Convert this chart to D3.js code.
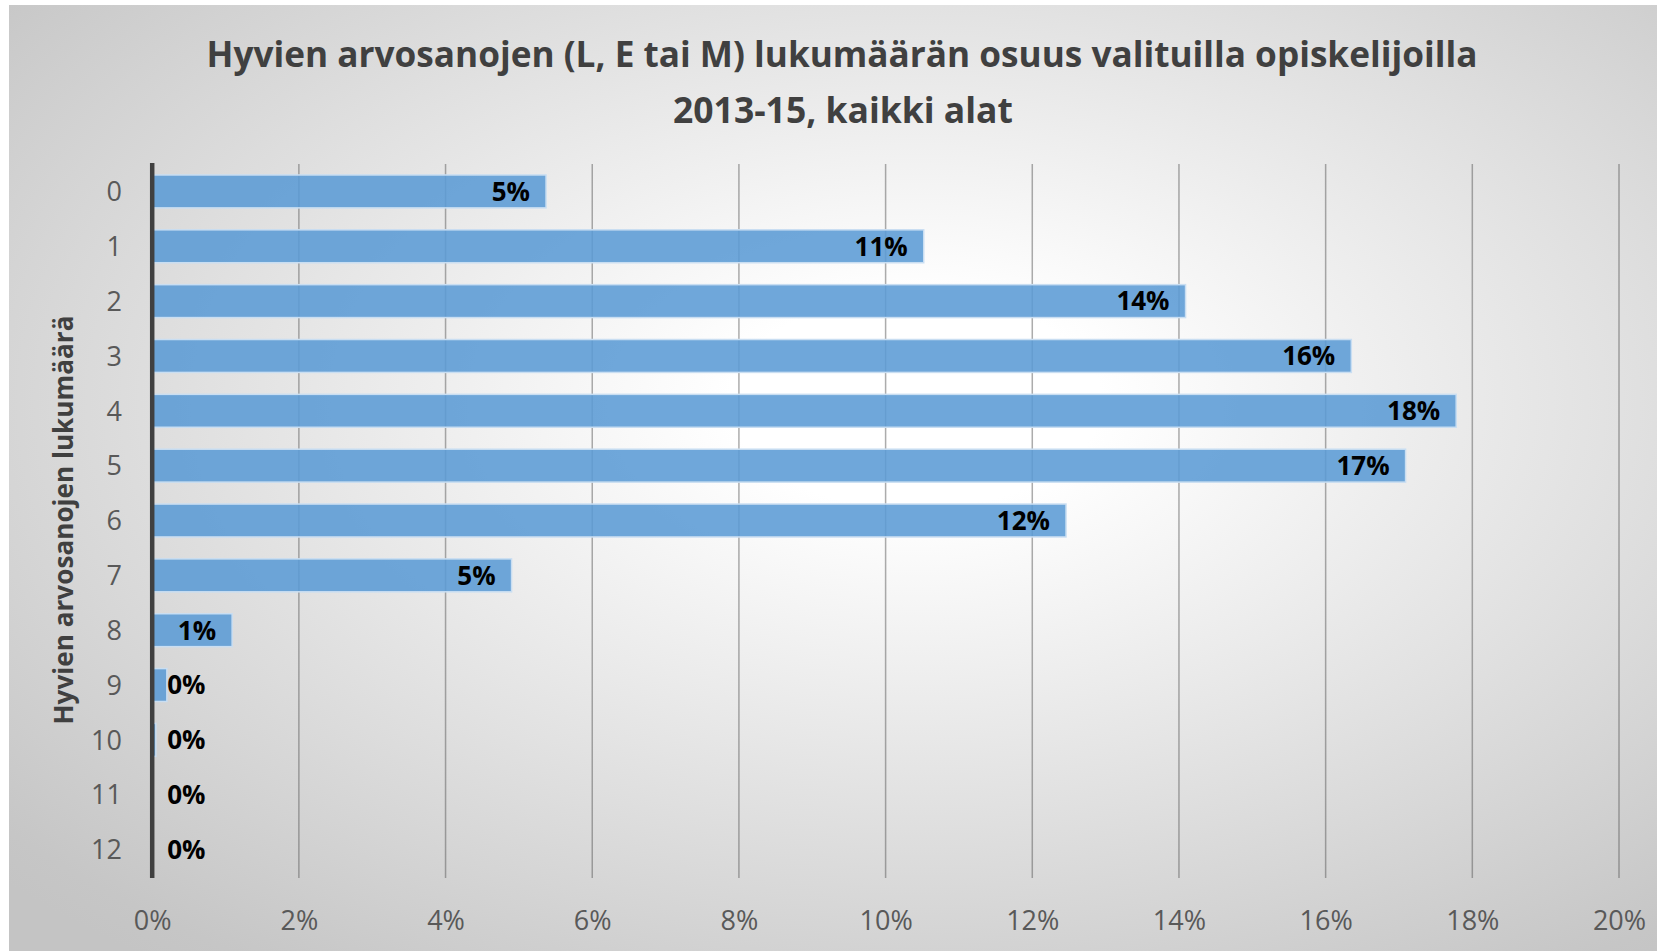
<!DOCTYPE html>
<html>
<head>
<meta charset="utf-8">
<script src="https://cdn.jsdelivr.net/npm/d3@7"></script>
<style>
  html, body { margin: 0; padding: 0; background: #ffffff; }
  svg { display: block; }
</style>
</head>
<body>
<svg id="chart" width="1657" height="951"></svg>
<script>
// ---- data ----
const titleLines = ["Hyvien arvosanojen (L, E tai M) lukumäärän osuus valituilla opiskelijoilla", "2013-15, kaikki alat"];
const yAxisTitle = "Hyvien arvosanojen lukumäärä";
const categories = ["0", "1", "2", "3", "4", "5", "6", "7", "8", "9", "10", "11", "12"];
const shares = [0.0537, 0.1052, 0.1409, 0.1635, 0.1778, 0.1709, 0.1246, 0.0490, 0.0109, 0.0020, 0.0005, 0.0000, 0.0000];
const xTicks = [0, 0.02, 0.04, 0.06, 0.08, 0.10, 0.12, 0.14, 0.16, 0.18, 0.20];

// ---- layout ----
const W = 1657, H = 951;
const svg = d3.select("#chart");
const FONT = "'Open Sans', 'Noto Sans', sans-serif";

const defs = svg.append("defs");
const grad = defs.append("radialGradient").attr("id", "bg")
  .attr("cx", 0.55).attr("cy", 0.42).attr("r", 0.75).attr("fx", 0.55).attr("fy", 0.42);
grad.append("stop").attr("offset", 0).attr("stop-color", "#ffffff");
grad.append("stop").attr("offset", 0.15).attr("stop-color", "#ffffff");
grad.append("stop").attr("offset", 0.95).attr("stop-color", "#c6c6c6");
grad.append("stop").attr("offset", 1).attr("stop-color", "#c4c4c4");

svg.append("rect").attr("x", 9).attr("y", 5).attr("width", W - 9).attr("height", H - 5)
  .attr("fill", "url(#bg)");

const x = d3.scaleLinear().domain([0, 0.20]).range([152.2, 1619]);
const y = d3.scaleBand().domain(categories).range([164, 877]).paddingInner(0.4).paddingOuter(0.2);

function fitWidth(sel, target) {
  const node = sel.node();
  const fs = parseFloat(sel.attr("font-size"));
  const w = node.getComputedTextLength();
  sel.attr("font-size", (fs * target / w).toFixed(2));
}

// title
const t1 = svg.append("text").attr("x", 842).attr("y", 67).attr("text-anchor", "middle")
  .attr("font-family", FONT).attr("font-weight", "bold").attr("font-size", 30)
  .attr("fill", "#404040").text(titleLines[0]);
fitWidth(t1, 1271);
const t2 = svg.append("text").attr("x", 843).attr("y", 123).attr("text-anchor", "middle")
  .attr("font-family", FONT).attr("font-weight", "bold").attr("font-size", 30)
  .attr("fill", "#404040").text(titleLines[1]);
fitWidth(t2, 340);

// gridlines
svg.append("g").selectAll("line").data(xTicks.filter(d => d > 0)).join("line")
  .attr("x1", d => x(d)).attr("x2", d => x(d))
  .attr("y1", 164).attr("y2", 878)
  .attr("stroke", "#595959").attr("stroke-opacity", 0.5).attr("stroke-width", 1.5);

// bars
svg.append("g").selectAll("rect").data(shares).join("rect")
  .attr("x", x(0))
  .attr("y", (d, i) => y(categories[i]))
  .attr("width", d => x(d) - x(0))
  .attr("height", y.bandwidth())
  .attr("fill", "#5b9bd5").attr("fill-opacity", 0.88)
  .attr("stroke", "#c9def2").attr("stroke-width", d => d > 0 ? 1.5 : 0);

// x axis labels
const xAxis = d3.axisBottom(x).tickValues(xTicks).tickSize(0).tickPadding(0).tickFormat(d3.format(".0%"));
const gx = svg.append("g").attr("transform", "translate(0,930)").call(xAxis);
gx.select(".domain").remove();
gx.selectAll("text").attr("font-family", FONT).attr("font-size", 27).attr("fill", "#595959")
  .attr("dy", 0).attr("y", 0);

// y axis labels
const yAxis = d3.axisLeft(y).tickSize(0).tickPadding(0);
const gy = svg.append("g").attr("transform", "translate(122,0)").call(yAxis);
gy.select(".domain").remove();
gy.selectAll("text").attr("font-family", FONT).attr("font-size", 27).attr("fill", "#595959")
  .attr("dy", "0.36em");

// axis line
svg.append("line").attr("x1", x(0)).attr("x2", x(0)).attr("y1", 163).attr("y2", 878)
  .attr("stroke", "#404040").attr("stroke-width", 4.5);

// data labels
const fmt = d3.format(".0%");
const lbl = svg.append("g").selectAll("text").data(shares).join("text")
  .attr("font-family", FONT).attr("font-weight", "bold").attr("font-size", 26)
  .attr("fill", "#000000")
  .attr("y", (d, i) => y(categories[i]) + y.bandwidth() / 2)
  .attr("dy", "0.36em")
  .text(d => fmt(d));
lbl.each(function(d) {
  const w = this.getComputedTextLength();
  const xs = Math.max(x(d) - 16 - w, x(0) + 15);
  d3.select(this).attr("x", xs);
});

// y axis title
const yt = svg.append("text")
  .attr("transform", "translate(73,520) rotate(-90)")
  .attr("text-anchor", "middle")
  .attr("font-family", FONT).attr("font-weight", "bold").attr("font-size", 26)
  .attr("fill", "#404040").text(yAxisTitle);
fitWidth(yt, 409);
</script>
</body>
</html>
